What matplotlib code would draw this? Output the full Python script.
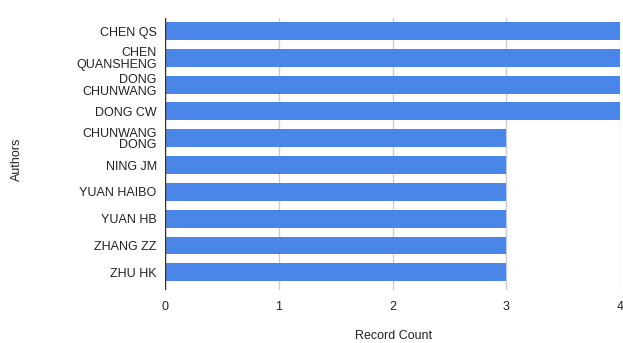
import matplotlib.pyplot as plt
import numpy as np

plt.rcParams['font.family'] = ['Liberation Sans', 'DejaVu Sans']

authors = ["CHEN QS", "CHEN\nQUANSHENG", "DONG\nCHUNWANG", "DONG CW",
           "CHUNWANG\nDONG", "NING JM", "YUAN HAIBO", "YUAN HB",
           "ZHANG ZZ", "ZHU HK"]
record_count = [4, 4, 4, 4, 3, 3, 3, 3, 3, 3]
x_ticks = [0, 1, 2, 3, 4]

fig = plt.figure(figsize=(6.23, 3.43), dpi=100)
ax = fig.add_axes([0.2648, 0.1545, 0.7305, 0.7942])

pos = np.arange(len(authors))
ax.barh(pos, record_count, height=0.67, color='#4a86e8', zorder=3)

ax.set_xlim(0, 4)
ax.set_ylim(9.66, -0.5)
ax.set_xticks(x_ticks)
ax.set_xticklabels([str(t) for t in x_ticks])
ax.set_yticks(pos)
ax.set_yticklabels(authors, linespacing=0.95)

ax.grid(axis='x', color='#cccccc', linewidth=1, zorder=0)
ax.axvline(0, color='#333333', linewidth=1, zorder=4)
for s in ax.spines.values():
    s.set_visible(False)
ax.tick_params(axis='both', length=0, labelsize=9, colors='#222222')
ax.tick_params(axis='x', pad=8)
ax.tick_params(axis='y', pad=6)

fig.text(0.631, 0.0204, "Record Count", ha='center', va='center', fontsize=9, color='#222222')
fig.text(0.027, 0.536, "Authors", ha='center', va='center', rotation=90, fontsize=9, color='#222222')

fig.savefig('out.png', dpi=100)
